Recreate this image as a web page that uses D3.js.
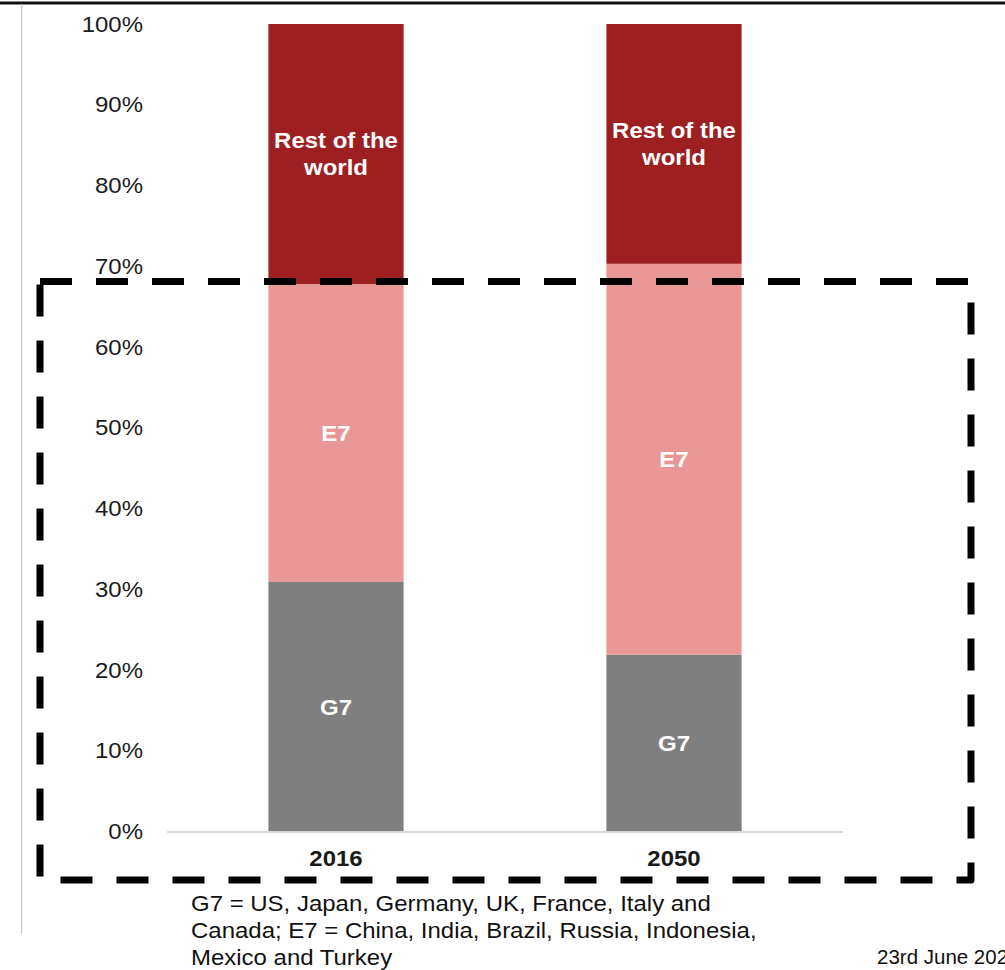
<!DOCTYPE html>
<html>
<head>
<meta charset="utf-8">
<script src="https://cdn.jsdelivr.net/npm/d3@7"></script>
<style>
  html, body { margin: 0; padding: 0; background: #fff; overflow: hidden; }
  svg { display: block; font-family: Arial, "Liberation Sans", sans-serif; }
</style>
</head>
<body>
<svg id="chart" width="1005" height="970"></svg>
<script>
// Share of world GDP (PPP), %
const years = ["2016", "2050"];
const g7 = [30.9, 21.9];
const e7 = [36.9, 48.4];
const restOfWorld = [32.2, 29.7];
const groupNames = ["G7", "E7", "Rest of the world"];
const yTicks = [0, 10, 20, 30, 40, 50, 60, 70, 80, 90, 100];
const footnote = [
  "G7 = US, Japan, Germany, UK, France, Italy and",
  "Canada; E7 = China, India, Brazil, Russia, Indonesia,",
  "Mexico and Turkey"
];
const dateText = "23rd June 2023";

const colors = ["#7f7f7f", "#e99796", "#9e1f20"];
const stretch = 1.09;

const svg = d3.select("#chart");

// Frame lines of the slide
svg.append("line")
  .attr("x1", 0).attr("x2", 1005).attr("y1", 3).attr("y2", 3)
  .attr("stroke", "#111").attr("stroke-width", 3);
svg.append("line")
  .attr("x1", 21.5).attr("x2", 21.5).attr("y1", 4).attr("y2", 933)
  .attr("stroke", "#c4c4c4").attr("stroke-width", 1.2);

const x = d3.scaleBand().domain(years).range([167, 843])
  .paddingInner(0.6).paddingOuter(0.3);
const y = d3.scaleLinear().domain([0, 100]).range([831.5, 24]);

// Stack the three groups per year
const rows = years.map((yr, i) => ({
  year: yr,
  "G7": g7[i],
  "E7": e7[i],
  "Rest of the world": restOfWorld[i]
}));
const stack = d3.stack().keys(groupNames)(rows);

const layers = svg.append("g").selectAll("g")
  .data(stack).join("g")
  .attr("fill", (d, i) => colors[i]);

layers.selectAll("rect")
  .data(d => d.map(p => ({ p, key: d.key })))
  .join("rect")
  .attr("x", d => x(d.p.data.year))
  .attr("width", x.bandwidth())
  .attr("y", d => y(d.p[1]))
  .attr("height", d => y(d.p[0]) - y(d.p[1]));

// Segment labels
const labelLines = { "G7": ["G7"], "E7": ["E7"], "Rest of the world": ["Rest of the", "world"] };
stack.forEach(layer => {
  layer.forEach(p => {
    const cx = x(p.data.year) + x.bandwidth() / 2;
    const cy = y((p[0] + p[1]) / 2);
    const lines = labelLines[layer.key];
    const lh = 27;
    lines.forEach((t, j) => {
      const ly = cy + (j - (lines.length - 1) / 2) * lh;
      svg.append("text")
        .attr("transform", `translate(${cx},${ly}) scale(${stretch},1)`)
        .attr("text-anchor", "middle")
        .attr("dy", "0.36em")
        .attr("fill", "#fff")
        .attr("font-weight", "bold")
        .attr("font-size", 22)
        .text(t);
    });
  });
});

// Y axis labels
const yAxis = svg.append("g")
  .attr("transform", "translate(143,0)")
  .call(d3.axisLeft(y).tickValues(yTicks).tickSize(0).tickPadding(0).tickFormat(d => d + "%"));
yAxis.select(".domain").remove();
yAxis.selectAll("text")
  .attr("transform", `scale(${stretch},1)`)
  .attr("font-family", "Arial, 'Liberation Sans', sans-serif")
  .attr("font-size", 22)
  .attr("fill", "#1a1a1a");

// Baseline
svg.append("line")
  .attr("x1", 167).attr("x2", 843)
  .attr("y1", y(0) + 0.5).attr("y2", y(0) + 0.5)
  .attr("stroke", "#d9d9d9").attr("stroke-width", 2);

// X axis labels
const xAxis = svg.append("g")
  .attr("transform", `translate(0,${y(0)})`)
  .call(d3.axisBottom(x).tickSize(0).tickPadding(19));
xAxis.select(".domain").remove();
xAxis.selectAll("text")
  .attr("transform", `scale(${stretch},1)`)
  .attr("font-family", "Arial, 'Liberation Sans', sans-serif")
  .attr("font-size", 22)
  .attr("font-weight", "bold")
  .attr("fill", "#1a1a1a");

// Dashed highlight box
svg.append("path")
  .attr("d", "M40,281.5H971V880H40Z")
  .attr("fill", "none")
  .attr("stroke", "#000")
  .attr("stroke-width", 7)
  .attr("stroke-dasharray", "32 24")
  .attr("stroke-linejoin", "round");

// Footnote
footnote.forEach((t, i) => {
  svg.append("text")
    .attr("transform", `translate(191,${903 + i * 27}) scale(${stretch},1)`)
    .attr("dy", "0.36em")
    .attr("font-size", 22)
    .attr("fill", "#111")
    .text(t);
});

// Slide date (runs off the right edge of the slide)
svg.append("text")
  .attr("x", 877).attr("y", 957)
  .attr("dy", "0.36em")
  .attr("font-size", 20.5)
  .attr("fill", "#111")
  .text(dateText);
</script>
</body>
</html>
